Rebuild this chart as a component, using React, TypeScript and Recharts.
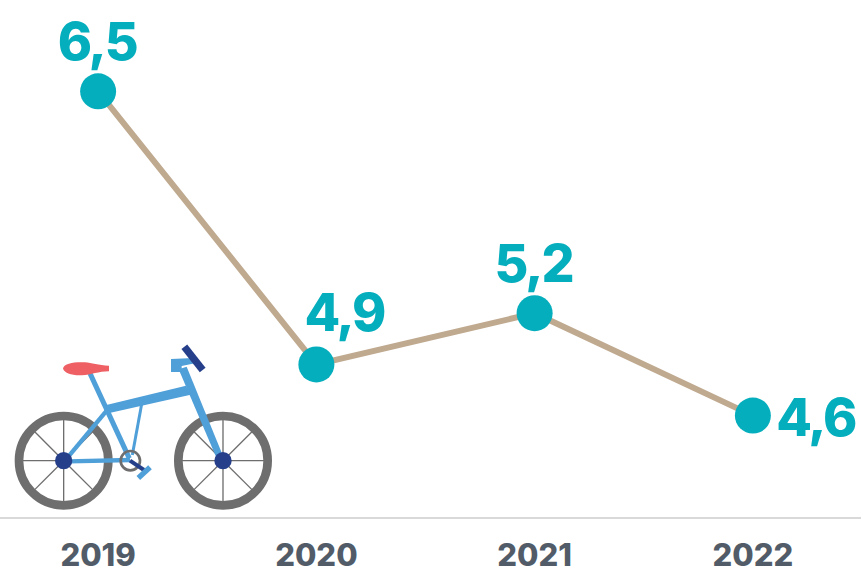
import React from "react";
import { LineChart, Line, XAxis, YAxis, LabelList } from "recharts";

const years = ["2019", "2020", "2021", "2022"];
const values = [6.5, 4.9, 5.2, 4.6];
const valueLabels = ["6,5", "4,9", "5,2", "4,6"];
const labelDx = [-1, 28, -1, 63];
const labelDy = [-50, -52, -50, 2];

const rows = years.map((year, i) => ({ year, value: values[i] }));

const FONT = "Inter, 'Open Sans', sans-serif";
const TEAL = "#05aebd";

function ValueLabel(props: any) {
  const { x, y, index } = props;
  return (
    <text
      x={x + labelDx[index]}
      y={y + labelDy[index]}
      textAnchor="middle"
      dominantBaseline="central"
      fontFamily={FONT}
      fontWeight={800}
      fontSize={52}
      letterSpacing={-2}
      fill={TEAL}
    >
      {valueLabels[index]}
    </text>
  );
}

function Bike() {
  const blue = "#4f9fd9";
  const navy = "#263f8a";
  const gray = "#6e6e6e";
  const spokes = [0, 45, 90, 135, 180, 225, 270, 315];
  const wheel = (cx: number) => (
    <g key={cx}>
      {spokes.map((a) => (
        <line
          key={a}
          x1={cx}
          y1={392}
          x2={cx + 125 * Math.cos((a * Math.PI) / 180)}
          y2={392 + 125 * Math.sin((a * Math.PI) / 180)}
          stroke={gray}
          strokeWidth={4}
        />
      ))}
      <circle cx={cx} cy={392} r={134} fill="none" stroke={gray} strokeWidth={26} />
    </g>
  );
  return (
    <svg
      width={861}
      height={573}
      style={{ position: "absolute", left: 0, top: 0, pointerEvents: "none" }}
    >
      <g transform="translate(0,330) scale(0.33333)">
        {wheel(191)}
        {wheel(669)}
        <line x1={205} y1={380} x2={320} y2={242} stroke={blue} strokeWidth={13} />
        <line x1={205} y1={394} x2={390} y2={390} stroke={blue} strokeWidth={13} />
        <line x1={425} y1={222} x2={397} y2={375} stroke={blue} strokeWidth={9} />
        <line x1={270} y1={130} x2={388} y2={385} stroke={blue} strokeWidth={15} />
        <polygon points="316,226 558,167 572,194 325,250" fill={blue} />
        <polygon points="536,118 560,110 670,380 648,380" fill={blue} />
        <polygon points="513,87 580,84 585,100 545,108 545,126 513,126" fill={blue} />
        <line x1={553} y1={50} x2={608} y2={120} stroke={navy} strokeWidth={22} />
        <circle cx={391} cy={392} r={29} fill="none" stroke={gray} strokeWidth={8} />
        <line x1={390} y1={392} x2={432} y2={420} stroke={navy} strokeWidth={12} />
        <line x1={415} y1={444} x2={450} y2={412} stroke={blue} strokeWidth={16} />
        <circle cx={191} cy={392} r={26} fill={navy} />
        <circle cx={669} cy={392} r={26} fill={navy} />
        <path
          d="M189 115 C192 100 225 95 255 97 C275 98 295 107 327 107 L327 124 C295 124 275 135 245 136 C215 137 192 130 189 115 Z"
          fill="#ee6064"
        />
      </g>
    </svg>
  );
}

export default function App() {
  return (
    <div style={{ position: "absolute", left: 0, top: 0, width: 861, height: 573, overflow: "hidden" }}>
      <LineChart
        width={861}
        height={573}
        data={rows}
        margin={{ top: 6, right: -1, bottom: 0, left: -11 }}
      >
        <XAxis
          dataKey="year"
          scale="band"
          height={55}
          axisLine={{ stroke: "#d9d9d9", strokeWidth: 2 }}
          tickLine={false}
          tickMargin={20}
          interval={0}
          tick={{ fontFamily: FONT, fontWeight: 800, fontSize: 31, fill: "#525c68" }}
        />
        <YAxis hide domain={[4, 7]} />
        <Line
          dataKey="value"
          stroke="#bfa98f"
          strokeWidth={6}
          isAnimationActive={false}
          dot={{ r: 18, fill: TEAL, stroke: "none" }}
          activeDot={false}
        >
          <LabelList dataKey="value" content={<ValueLabel />} />
        </Line>
      </LineChart>
      <Bike />
    </div>
  );
}
